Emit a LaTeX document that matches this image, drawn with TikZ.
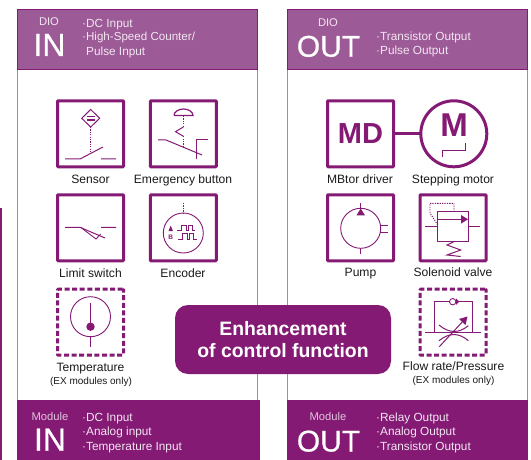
\documentclass[tikz,border=0pt]{standalone}
\usepackage{fontspec}
\setmainfont{Liberation Sans}
\usetikzlibrary{arrows.meta}
\definecolor{dio}{HTML}{9C5A96}
\definecolor{mod}{HTML}{841A74}
\definecolor{edgec}{HTML}{B57FB0}
\definecolor{headtxt}{HTML}{F3E6F2}
\definecolor{modtxt}{HTML}{E0C4DC}
\definecolor{labtxt}{HTML}{1A1A1A}
\newfontfamily\bigfont[FakeBold=0.6]{Liberation Sans}
\tikzset{
  symbox/.style={draw=mod,line width=3pt,minimum width=66pt,minimum height=66pt,inner sep=0pt,outer sep=0pt,rounded corners=0.8pt},
  dashbox/.style={symbox,dash pattern=on 5pt off 2.6pt},
  sym/.style={draw=mod,line width=1pt},
  symthin/.style={draw=mod,line width=0.9pt},
  dots/.style={draw=mod,line width=0.9pt,dash pattern=on 1.3pt off 1.1pt},
  lab/.style={anchor=base,font=\fontsize{12.1}{12.1}\selectfont,text=labtxt,inner sep=0pt},
  note/.style={anchor=base,font=\fontsize{10}{10}\selectfont,text=labtxt,inner sep=0pt},
  small/.style={anchor=base,font=\fontsize{11.2}{11.2}\selectfont,inner sep=0pt},
  big/.style={anchor=base,font=\bigfont\fontsize{32}{32}\selectfont,text=white,inner sep=0pt},
  bigo/.style={anchor=base,font=\bigfont\fontsize{30}{30}\selectfont,text=white,inner sep=0pt},
  item/.style={anchor=base west,font=\fontsize{11.8}{11.8}\selectfont,inner sep=0pt},
  band/.style={inner sep=0pt,outer sep=0pt,anchor=north west}
}
\begin{document}
\begin{tikzpicture}[x=1pt,y=-1pt]
\useasboundingbox (0,0) rectangle (531,460);
\fill[white] (0,0) rectangle (531,460);
% stray edge
\fill[mod] (0,208) rectangle (1.5,460);
% panels
\draw[edgec,line width=1pt] (17,69) -- (17,400) (257,69) -- (257,400);
\draw[edgec,line width=1pt] (287,69) -- (287,400) (527,69) -- (527,400);
% headers
\node[band,fill=dio,draw=mod,line width=0.7pt,minimum width=240pt,minimum height=60pt] (hl) at (17,9) {};
\node[band,fill=dio,draw=mod,line width=0.7pt,minimum width=240pt,minimum height=60pt] (hr) at (287,9) {};
\node[band,fill=mod,minimum width=243pt,minimum height=60pt] (bl) at (17,400) {};
\node[band,fill=mod,minimum width=240.5pt,minimum height=60pt] (br) at (287,400) {};
% header text
\node[small,text=headtxt] (t1) at (49,26) {DIO};
\node[big] (t2) at (49.5,56) {IN};
\node[item,text=headtxt] (t3) at (82,27.3) {·DC Input};
\node[item,text=headtxt,font=\fontsize{11.6}{11.6}\selectfont] (t4) at (82,41) {·High-Speed Counter/};
\node[item,text=headtxt] (t5) at (86,55.3) {Pulse Input};
\node[small,text=headtxt] (t6) at (328,27) {DIO};
\node[bigo] (t7) at (328.5,56.7) {OUT};
\node[item,text=headtxt] (t8) at (376,41) {·Transistor Output};
\node[item,text=headtxt] (t9) at (376,55) {·Pulse Output};
% bottom text
\node[small,text=modtxt] (b1) at (50,420) {Module};
\node[big] (b2) at (50,450.7) {IN};
\node[item,text=headtxt] (b3) at (82,421) {·DC Input};
\node[item,text=headtxt] (b4) at (82,435.5) {·Analog input};
\node[item,text=headtxt] (b5) at (82,450) {·Temperature Input};
\node[small,text=modtxt] (b6) at (328,420.7) {Module};
\node[bigo] (b7) at (328.5,451.5) {OUT};
\node[item,text=headtxt] (b8) at (376,421) {·Relay Output};
\node[item,text=headtxt] (b9) at (376,435.5) {·Analog Output};
\node[item,text=headtxt] (b10) at (376,450) {·Transistor Output};
% boxes
\node[symbox] (sensor) at (90.5,133.8) {};
\node[symbox] (emerg) at (183.3,133.8) {};
\node[symbox] (limit) at (90.5,227.8) {};
\node[symbox] (enc) at (183.3,227.8) {};
\node[dashbox] (temp) at (90.5,322.2) {};
\node[symbox,font=\bfseries\fontsize{29}{29}\selectfont,text=mod] (md) at (360.5,133.8) {MD};
\node[draw=mod,line width=3pt,circle,minimum size=66pt,inner sep=0pt,outer sep=0pt] (motor) at (453.8,133.8) {};
\node[font=\bfseries\fontsize{33}{33}\selectfont,text=mod,inner sep=0pt] (mm) at (454,125) {M};
\draw[mod,line width=3pt] (md) -- (motor);
\node[symbox] (pump) at (360.5,227.8) {};
\node[symbox] (valve) at (453,227.8) {};
\node[dashbox] (flow) at (453,322.2) {};
% labels
\node[lab] (l1) at (90.5,183) {Sensor};
\node[lab] (l2) at (183,183) {Emergency button};
\node[lab] (l3) at (90.5,277) {Limit switch};
\node[lab] (l4) at (183,277) {Encoder};
\node[lab] (l5) at (90.5,371) {Temperature};
\node[note] (l6) at (91,384) {(EX modules only)};
\node[lab] (l7) at (360,183) {MBtor driver};
\node[lab] (l8) at (453,183) {Stepping motor};
\node[lab] (l9) at (360.5,276) {Pump};
\node[lab] (l10) at (453,276) {Solenoid valve};
\node[lab] (l11) at (453.5,370) {Flow rate/Pressure};
\node[note] (l12) at (453.5,383) {(EX modules only)};
% sensor symbol
\draw[sym] (90.7,109.5) -- (99.7,118.3) -- (90.7,127) -- (81.7,118.3) -- cycle;
\draw[sym,line width=1.1pt] (86.5,116.7) -- (95,116.7) (86.5,120) -- (95,120);
\draw[dots] (90.5,127) -- (90.5,153);
\draw[sym] (65,159) -- (80,159) -- (103,147) (101,159) -- (116,159);
% emergency symbol
\draw[sym,line width=1.2pt] (174,115.5) -- (193,115.5) arc[start angle=0,end angle=180,x radius=9.5pt,y radius=6.5pt];
\draw[dots] (183.3,116) -- (183.3,127);
\draw[sym] (183.3,127) -- (175.5,131.7) -- (183.3,136.2);
\draw[dots] (183.3,136.2) -- (183.3,148);
\draw[sym] (158,140) -- (166,140) -- (202,155);
\draw[sym] (208,140) -- (196,140) -- (196,159);
% limit symbol
\draw[sym] (65,227.3) -- (80,227.3) -- (105,238) (101,227.3) -- (116,227.3);
\draw[symthin] (81,227.6) -- (96,239) -- (100.7,234);
% encoder symbol
\draw[symthin] (183.3,233) circle[radius=20pt];
\draw[dots] (183.3,203) -- (183.3,213);
\fill[mod] (168.5,231) -- (170.7,225.5) -- (172.9,231) -- cycle;
\node[inner sep=0pt,text=mod,font=\bfseries\fontsize{6.5}{6.5}\selectfont] (encb) at (170.7,237) {B};
\draw[symthin] (177,230.7) -- (181,230.7) -- (181,225.5) -- (186,225.5) -- (186,230.7) -- (188,230.7) -- (188,225.5) -- (192,225.5) -- (192,230.7) -- (195,230.7);
\draw[symthin] (178,239) -- (182.5,239) -- (182.5,233.8) -- (187,233.8) -- (187,239) -- (189.5,239) -- (189.5,233.8) -- (193.5,233.8) -- (193.5,239) -- (197,239);
% temperature symbol
\draw[symthin] (90.5,316.7) circle[radius=20pt];
\draw[sym] (90.5,303) -- (90.5,326.7) (90.5,336.7) -- (90.5,346.7);
\fill[mod] (90.5,326.7) circle[radius=4.2pt];
% motor pulse
\draw[mod,line width=0.9pt] (442.7,157) -- (442.7,150) -- (465.7,150) -- (465.7,143);
% pump symbol
\draw[symthin] (360.7,228.3) circle[radius=20pt];
\draw[sym] (360.7,203) -- (360.7,209) (360.7,248.3) -- (360.7,253.6);
\fill[mod] (356.5,215.3) -- (360.7,208.5) -- (365,215.3) -- cycle;
\draw[sym] (380,225.7) -- (388.3,225.7) (380,232.3) -- (388.3,232.3);
% valve symbol
\draw[sym] (437.7,211) rectangle (468.3,241.7);
\draw[sym] (437.7,219.3) -- (462,219.3);
\fill[mod] (461,215) -- (468,219.3) -- (461,223.6) -- cycle;
\draw[sym,line width=1.1pt] (425,226.3) -- (437.7,226.3) (468.3,226.3) -- (480,226.3);
\draw[dots] (437.7,225) -- (430,213) -- (430,203.3) -- (454,203.3) -- (454,211);
\draw[sym] (454,241.7) -- (447,245) -- (460.7,250) -- (447,255) -- (460.7,256.5);
% flow symbol
\draw[symthin] (434.3,332.7) -- (434.3,301.5) -- (472,301.5) -- (472,332.7);
\draw[sym] (425,332.7) -- (480.7,332.7);
\draw[symthin,fill=white] (452.7,301.7) circle[radius=3.2pt];
\fill[mod] (456,298.5) -- (459.3,301.7) -- (456,304.9) -- cycle;
\draw[sym] (439,325) .. controls (449,333.5) and (459,333.5) .. (468.3,325.7);
\draw[sym] (439,340.7) .. controls (449,332.5) and (459,332.5) .. (468.3,340.7);
\draw[sym] (439.3,346.7) -- (463,321.2);
\fill[mod] (467.5,316.5) -- (465.5,325) -- (459,319) -- cycle;
% callout
\node[fill=mod,rounded corners=13pt,minimum width=216pt,minimum height=69pt,inner sep=0pt,outer sep=0pt,text=white,align=center,font=\bfseries\fontsize{19.4}{22.5}\selectfont] (call) at (283,339.5) {Enhancement\\of control function};
\end{tikzpicture}
\end{document}
